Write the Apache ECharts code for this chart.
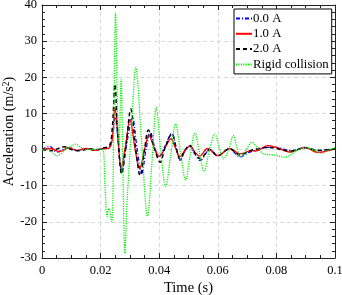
<!DOCTYPE html>
<html><head><meta charset="utf-8">
<script src="https://cdn.jsdelivr.net/npm/echarts@6/dist/echarts.min.js"></script>
<style>html,body{margin:0;padding:0;background:#fff}#c{width:342px;height:295px}</style>
</head><body><div id="c"></div>
<script>
var seriesNames = ['0.0 A', '1.0 A', '2.0 A', 'Rigid collision'];
var xTicks = [0, 0.02, 0.04, 0.06, 0.08, 0.1];
var yTicks = [-30, -20, -10, 0, 10, 20, 30, 40];

var blue = [[0,0],[0.0027,0.9],[0.005,-0.7],[0.0075,0.2],[0.0096,0.5],[0.012,-0.3],[0.015,0.2],[0.018,-0.2],[0.021,0.3],[0.023,0.6],[0.024,3],[0.025,9],[0.0258,4],[0.0272,-5.8],[0.029,2],[0.0308,8.9],[0.0325,0],[0.034,-6.7],[0.0355,0],[0.0369,5.0],[0.0385,0.5],[0.0398,-2.1],[0.042,1],[0.0443,4.5],[0.0458,0.5],[0.0471,-3.0],[0.049,0],[0.0503,1.1],[0.052,-1],[0.054,-3.0],[0.0573,0],[0.06,-1.7],[0.064,0.2],[0.0676,-2.0],[0.071,-0.7],[0.074,0],[0.077,0.6],[0.08,0.6],[0.085,-0.3],[0.0898,0.6],[0.094,-0.3],[0.1,0.2]];
var red = [[0,0],[0.003,0.3],[0.006,-0.6],[0.009,0.5],[0.012,-0.2],[0.015,0.3],[0.018,-0.2],[0.021,0.2],[0.023,0.5],[0.024,3],[0.0249,11.7],[0.0258,5],[0.027,-4.9],[0.0285,1],[0.03,8.3],[0.0318,0],[0.0333,-5.3],[0.035,0],[0.0365,3.9],[0.0385,0],[0.0401,-1.9],[0.042,0.5],[0.044,3.0],[0.0455,0.5],[0.0471,-1.9],[0.049,0],[0.0505,1.0],[0.0525,-1],[0.0538,-1.8],[0.0565,0.3],[0.06,-1.7],[0.064,0.3],[0.0676,-1.2],[0.0715,-0.3],[0.073,-0.4],[0.077,1.1],[0.08,0.6],[0.085,-0.7],[0.0898,0.6],[0.094,-0.8],[0.1,0.2]];
var black = [[0,0],[0.003,-0.3],[0.0078,0.8],[0.01,0],[0.013,-0.3],[0.016,0.2],[0.019,0],[0.021,0.5],[0.023,1],[0.024,6],[0.0249,18.1],[0.0258,5],[0.0272,-6.7],[0.0288,2],[0.0303,11.2],[0.032,0],[0.0335,-7.2],[0.035,0],[0.0363,5.4],[0.0385,0],[0.0403,-3.5],[0.042,0.5],[0.0443,4.3],[0.0458,0.5],[0.0471,-2.6],[0.049,0],[0.0503,1.2],[0.052,-0.8],[0.054,-2.5],[0.0573,0],[0.06,-1.7],[0.064,0.2],[0.0676,-1.5],[0.071,-0.3],[0.077,0.6],[0.085,-0.4],[0.0898,0.5],[0.094,-0.2],[0.1,0.2]];
var green = [[0,0],[0.002,0],[0.004,-1.2],[0.005,-1.7],[0.0065,-1.2],[0.008,0],[0.01,1.0],[0.0115,1.5],[0.013,0.8],[0.0145,0],[0.018,0],[0.0205,0],[0.0215,-10],[0.0222,-18.5],[0.0228,-16.3],[0.0238,-20],[0.0245,8],[0.0251,37.8],[0.0258,10],[0.0263,1.5],[0.027,19.5],[0.0276,-5],[0.0283,-28.7],[0.029,-15],[0.0305,5],[0.032,22.7],[0.034,2],[0.036,-18.4],[0.0375,-4],[0.039,11.6],[0.0405,0],[0.0422,-10.2],[0.044,-1],[0.0456,7.1],[0.0473,-1],[0.049,-8.4],[0.0505,-2],[0.0522,4.5],[0.0538,-1],[0.0553,-6.0],[0.0572,0],[0.059,4.3],[0.0605,0.5],[0.062,-2.6],[0.0637,0],[0.0653,3.9],[0.0665,0.5],[0.0678,-2.1],[0.0697,0],[0.0716,2.0],[0.0735,0.5],[0.0755,-1.1],[0.079,-1.5],[0.083,-2.1],[0.0865,-0.5],[0.0898,0.6],[0.093,-0.2],[0.0955,-1.0],[0.098,0],[0.1,0.5]];

var font = '"Liberation Serif", "Times New Roman", serif';
var axisCol = '#222';
function mkX(main) {
  return {
    type: 'value', position: main ? 'bottom' : 'top',
    min: xTicks[0], max: xTicks[xTicks.length-1], interval: 0.02,
    axisLine: {show: true, onZero: false, lineStyle: {color: axisCol, width: 1}},
    axisTick: {show: true, inside: true, length: 5, lineStyle: {color: axisCol}},
    minorTick: {show: true, splitNumber: 4, length: 3, lineStyle: {color: axisCol}},
    axisLabel: {show: main, color: '#000', fontFamily: font, fontSize: 12.5, margin: 6,
      formatter: function(v){ return String(+v.toFixed(2)); }},
    splitLine: {show: main, lineStyle: {color: '#d9d9d9', type: [4, 3], width: 1}},
    name: main ? 'Time (s)' : '', nameLocation: 'middle', nameGap: 23, nameMoveOverlap: false,
    nameTextStyle: {color: '#000', fontFamily: font, fontSize: 14.5}
  };
}
function mkY(main) {
  return {
    type: 'value', position: main ? 'left' : 'right',
    min: yTicks[0], max: yTicks[yTicks.length-1], interval: 10,
    axisLine: {show: true, onZero: false, lineStyle: {color: axisCol, width: 1}},
    axisTick: {show: true, inside: true, length: 5, lineStyle: {color: axisCol}},
    minorTick: {show: true, splitNumber: 5, length: 3, lineStyle: {color: axisCol}},
    axisLabel: {show: main, color: '#000', fontFamily: font, fontSize: 12.5, margin: 5},
    splitLine: {show: main, lineStyle: {color: '#d9d9d9', type: [4, 3], width: 1}},
    name: main ? '{a|Acceleration (m/s}{s|2}{a|)}' : '', nameLocation: 'middle', nameGap: 24,
    nameMoveOverlap: false,
    nameTextStyle: {color: '#000', fontFamily: font, fontSize: 14,
      rich: {a: {fontFamily: font, fontSize: 14, color: '#000'},
             s: {fontFamily: font, fontSize: 9.5, color: '#000', verticalAlign: 'top', padding: [0,0,7,0]}}}
  };
}
var styles = [
  {color: '#0000ff', type: [4, 2, 1, 2], width: 1.3},
  {color: '#ff0000', type: 'solid', width: 1.3},
  {color: '#000000', type: [4, 3], width: 1.5},
  {color: '#00f000', type: [1.2, 1.2], width: 1.3}
];
var datas = [blue, red, black, green];
var chart = echarts.init(document.getElementById('c'), null, {renderer: 'canvas'});
chart.setOption({
  animation: false,
  backgroundColor: '#fff',
  grid: {left: 42, right: 7, top: 5, bottom: 37, containLabel: false, outerBoundsMode: 'none'},
  xAxis: [mkX(true), mkX(false)],
  yAxis: [mkY(true), mkY(false)],
  legend: {
    orient: 'vertical', left: 234, top: 9, padding: [3, 3, 3, 1], itemGap: 2.3,
    itemWidth: 16, itemHeight: 12, backgroundColor: '#fff', borderColor: '#000', borderWidth: 1,
    textStyle: {fontFamily: font, fontSize: 12.8, color: '#000', padding: [0, 0, 0, -4]},
    itemStyle: {color: 'transparent', borderWidth: 0, opacity: 0},
    data: seriesNames
  },
  series: datas.map(function(d, i){
    return {
      name: seriesNames[i], type: 'line', data: d, xAxisIndex: 0, yAxisIndex: 0,
      showSymbol: false, symbol: 'none', smooth: 0.35,
      lineStyle: styles[i], itemStyle: {color: styles[i].color}
    };
  })
});
</script></body></html>
